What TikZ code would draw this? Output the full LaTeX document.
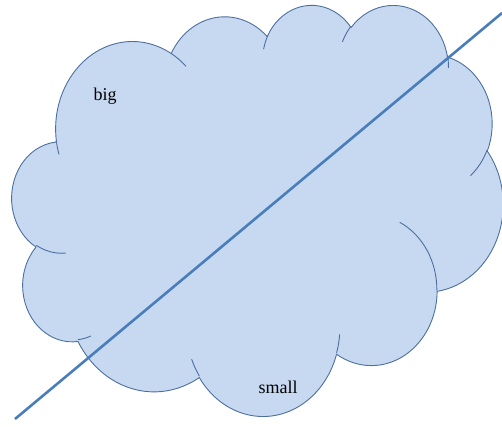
\documentclass[tikz,border=0pt]{standalone}
\usepackage{fontspec}
\setmainfont{Liberation Serif}
\definecolor{cloudblue}{HTML}{C6D9F1}
\definecolor{cloudedge}{HTML}{4D6F9F}
\definecolor{lineblue}{HTML}{4A7EBB}
\tikzset{
  cloudbody/.style={fill=cloudblue, draw=cloudedge, line width=0.9pt, line join=round},
  cloudhook/.style={draw=cloudedge, line width=0.9pt, line cap=round},
  divider/.style={draw=lineblue, line width=2.6pt},
  lbl/.style={font=\fontsize{18}{21}\selectfont, text=black, anchor=base, inner sep=0pt}
}
\newcommand\cldarc[4]{arc[start angle={vis(#1,#2,#3)}, delta angle={dl(#1,#2,#3,#4)}, x radius=#1pt, y radius=#2pt]}
\begin{document}
\begin{tikzpicture}[declare function={
    vis(\w,\h,\a)=atan2(\w*sin(\a),\h*cos(\a));
    dl(\w,\h,\a,\s)=(vis(\w,\h,\a+\s)-vis(\w,\h,\a))-360*round((vis(\w,\h,\a+\s)-vis(\w,\h,\a)-\s)/360);
  }]
\useasboundingbox (0pt,0pt) rectangle (502pt,-426pt);
\begin{scope}[shift={(12pt,-4pt)}, xscale=491/432, yscale=-411/432]
  \path[cloudbody] (39.00pt,143.70pt)
    \cldarc{67.53}{91.90}{-190.48748}{123.78053}
    \cldarc{53.33}{72.67}{-144.10238}{89.94523}
    \cldarc{43.65}{59.45}{-145.80792}{99.72302}
    \cldarc{48.57}{65.95}{-130.98607}{117.24173}
    \cldarc{53.33}{72.73}{-78.70888}{109.02692}
    \cldarc{67.75}{92.20}{-46.26725}{130.269}
    \cldarc{57.85}{78.67}{0.62502}{114.03333}
    \cldarc{67.52}{92.15}{22.4516}{115.17255}
    \cldarc{77.20}{105.43}{66.24263}{75.71102}
    \cldarc{43.60}{59.18}{-274.94208}{146.73557}
    \cldarc{43.45}{59.45}{-246.8285}{152.51885}
    -- cycle;
  \path[cloudhook] (46.93pt,261.77pt) \cldarc{43.45}{59.45}{86.742}{26.4295};
  \path[cloudhook] (69.28pt,348.99pt) \cldarc{43.60}{59.18}{73.61047}{11.44747};
  \path[cloudhook] (164.78pt,390.90pt) \cldarc{67.52}{92.15}{137.62415}{14.0811};
  \path[cloudhook] (288.27pt,347.51pt) \cldarc{67.52}{92.15}{6.45327}{15.99835};
  \path[cloudhook] (341.29pt,229.54pt) \cldarc{57.85}{78.67}{-70.29235}{70.91737};
  \path[cloudhook] (417.98pt,153.54pt) \cldarc{53.33}{72.73}{30.31803}{27.7515};
  \path[cloudhook] (383.24pt,54.26pt) \cldarc{48.57}{65.95}{-13.74433}{14.8589};
  \path[cloudhook] (290.78pt,39.52pt) \cldarc{48.57}{65.95}{-149.18145}{18.19537};
  \path[cloudhook] (221.41pt,47.20pt) \cldarc{43.65}{59.45}{-163.49427}{17.68635};
  \path[cloudhook] (140.00pt,51.92pt) \cldarc{67.53}{91.90}{-66.70695}{12.31935};
  \path[cloudhook] (41.27pt,157.89pt) \cldarc{67.53}{91.90}{157.65435}{11.85817};
\end{scope}
\node[lbl] (big) at (105pt,-100pt) {big};
\node[lbl] (small) at (278pt,-393pt) {small};
\coordinate (lineS) at (15pt,-419pt);
\coordinate (lineE) at (502pt,-13pt);
\draw[divider] (lineS) -- (lineE);
\end{tikzpicture}
\end{document}
